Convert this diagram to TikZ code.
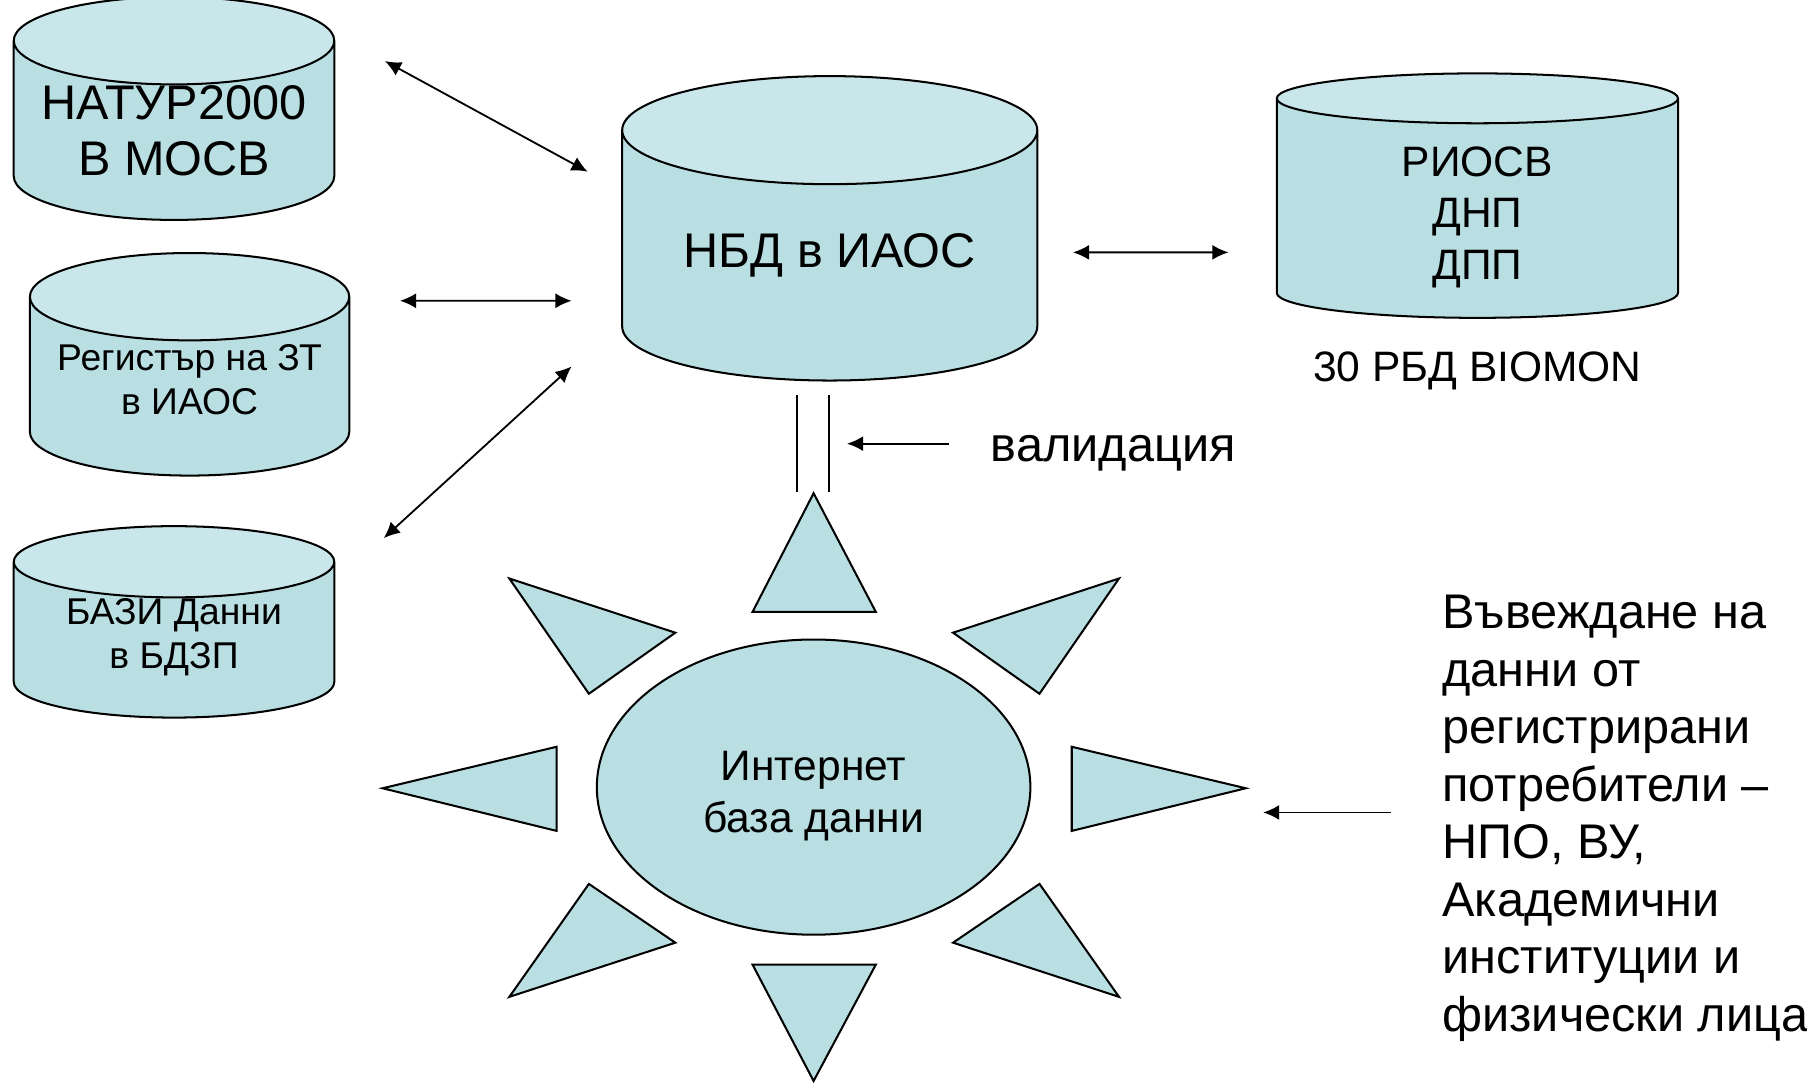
\documentclass[tikz,border=0pt]{standalone}
\usepackage{fontspec}
\setmainfont{Liberation Sans}
\usetikzlibrary{shapes.geometric,arrows.meta,calc}

\definecolor{dbbody}{RGB}{185,223,227}
\definecolor{dbtop}{RGB}{201,231,234}

\tikzset{
  dbstore/.style={cylinder,shape border rotate=90,aspect=0.33,draw,line width=0.5pt,
    cylinder uses custom fill,cylinder body fill=dbbody,cylinder end fill=dbtop,
    align=center,inner sep=0pt},
  dbarrow/.style={{Latex[length=1.4mm,width=1.3mm]}-{Latex[length=1.4mm,width=1.3mm]},line width=0.45pt},
  inarrow/.style={-{Latex[length=1.4mm,width=1.3mm]},line width=0.45pt},
  ray/.style={draw,fill=dbbody,line width=0.5pt}
}

\begin{document}
\begin{tikzpicture}
  [x=0.01cm,y=-0.01cm]
  \useasboundingbox (0,0) rectangle (1568,939);

  % databases
  \node[dbstore,minimum width=2.78cm,minimum height=1.79cm,font=\fontsize{12}{13.9}\selectfont] (natura) at (151,113.5) {НАТУР2000\\В МОСВ};
  \node[dbstore,minimum width=2.77cm,minimum height=1.93cm,font=\fontsize{9.2}{10.8}\selectfont] (zt) at (164.5,335.5) {Регистър на ЗТ\\в ИАОС\rule[-1.2mm]{0pt}{0pt}};
  \node[dbstore,minimum width=2.78cm,minimum height=1.64cm,font=\fontsize{9.2}{10.8}\selectfont] (bdzp) at (151,555.5) {БАЗИ Данни\\в БДЗП\rule[-1.2mm]{0pt}{0pt}};
  \node[dbstore,aspect=0.37,minimum width=3.60cm,minimum height=2.64cm,font=\fontsize{12}{13.9}\selectfont] (nbd) at (720,222) {НБД в ИАОС};
  \node[dbstore,minimum width=3.48cm,minimum height=2.12cm,font=\fontsize{10.5}{12.7}\selectfont] (riosv) at (1282,181) {\rule{0pt}{4.1mm}РИОСВ\\ДНП\\ДПП};
  \node[font=\fontsize{10.5}{12.5}\selectfont] (biomon) at (1282,322) {30 РБД BIOMON};

  % internet database
  \node[ellipse,draw,fill=dbbody,line width=0.5pt,minimum width=3.76cm,minimum height=2.56cm,
    align=center,font=\fontsize{10.5}{12.8}\selectfont] (inet) at (706,683) {\rule{0pt}{4.1mm}Интернет\\база данни};
  \foreach \xa/\ya/\xb/\yb/\xc/\yc in {706/428/653/531/760/531, 706/938/653/837/760/837,
      332/684/483/648/483/721, 1081/684/930/648/930/721,
      442/502/586/549/511/602, 971/502/827/549/902/602,
      442/865/586/818/511/767, 971/865/827/818/902/767}
    \draw[ray] (\xa,\ya) -- (\xb,\yb) -- (\xc,\yc) -- cycle;

  % links
  \draw[dbarrow] ($(natura.east)+(43,-60.5)$) -- ($(nbd.west)+(-29,-73)$);
  \draw[dbarrow] ($(zt.east)+(43,-74.5)$) -- ($(nbd.west)+(-43,39)$);
  \draw[dbarrow] ($(bdzp.east)+(42,-88.5)$) -- ($(nbd.west)+(-43,96)$);
  \draw[dbarrow] ($(nbd.east)+(30,-3)$) -- ($(riosv.west)+(-41,38)$);

  % validation
  \draw[line width=0.5pt] (692,343) -- (692,427);
  \draw[line width=0.5pt] (719,343) -- (719,427);
  \node[font=\fontsize{12}{14}\selectfont] (valid) at (966,393) {валидация};
  \draw[inarrow] ($(valid.west)+(-24,-8)$) -- (735,385);

  % users
  \node[anchor=west,align=left,inner sep=0pt,font=\fontsize{12}{14.2}\selectfont] (users) at (1251,710)
    {Въвеждане на\\данни от\\регистрирани\\потребители –\\НПО, ВУ,\\Академични\\институции и\\физически лица};
  \draw[inarrow] ($(users.west)+(-44,-5)$) -- (1096,705);
\end{tikzpicture}
\end{document}
